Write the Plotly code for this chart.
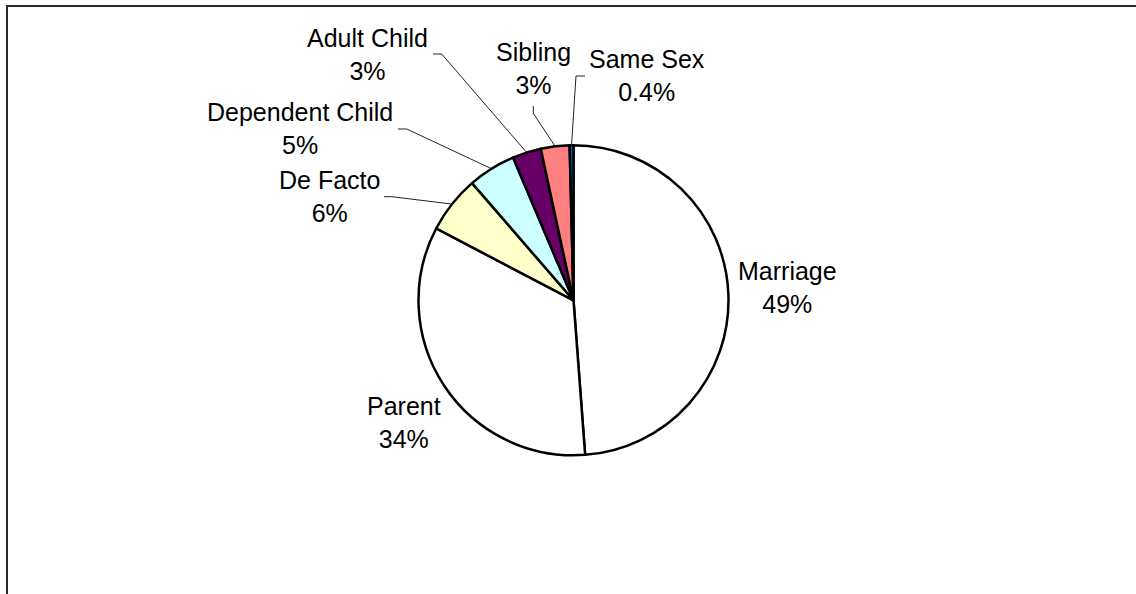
import math
import plotly.graph_objects as go

# Relationship categories and their shares (%)
categories = ["Marriage", "Parent", "De Facto", "Dependent Child",
              "Adult Child", "Sibling", "Same Sex"]
shares = [49, 34, 6, 5, 3, 3, 0.4]
slice_colors = ["#FFFFFF", "#FFFFFF", "#FFFFCC", "#CCFFFF",
                "#660066", "#FF8080", "#0066CC"]

W, H = 1136, 594
CX, CY, R = 573.5, 300.3, 155.0  # pie centre / radius in pixels

# Label block centres (px) and, for labels that need one, the elbow of the
# leader line: (start point next to the label, bend point)
label_pos = {
    "Marriage": (787, 287),
    "Parent": (404, 422),
    "De Facto": (329, 196),
    "Dependent Child": (300, 129),
    "Adult Child": (367.5, 55),
    "Sibling": (533, 68),
    "Same Sex": (646.5, 75),
}
leader_elbows = {
    "De Facto": [(384, 196.7), (391.7, 196.7)],
    "Dependent Child": [(398, 129), (406.7, 129)],
    "Adult Child": [(433, 54), (441.7, 54)],
    "Sibling": [(533.3, 106), (533.3, 113.3)],
    "Same Sex": [(585, 76), (576, 76)],
}


def px(x, y):
    return x / W, 1 - y / H


fig = go.Figure(
    go.Pie(
        labels=categories,
        values=shares,
        sort=False,
        direction="clockwise",
        rotation=0,
        marker=dict(colors=slice_colors, line=dict(color="black", width=2.5)),
        textinfo="none",
        hoverinfo="label+percent",
        domain=dict(x=[(CX - R) / W, (CX + R) / W],
                    y=[1 - (CY + R) / H, 1 - (CY - R) / H]),
    )
)

total = sum(shares)
annotations = []
shapes = []
cum = 0.0
for name, v in zip(categories, shares):
    mid = (cum + v / 2) / total * 2 * math.pi
    cum += v
    lx, ly = label_pos[name]
    ax, ay = px(lx, ly)
    annotations.append(dict(
        x=ax, y=ay, xref="paper", yref="paper",
        text=f"{name}<br>{v:g}%", showarrow=False,
        xanchor="center", yanchor="middle", align="center",
        font=dict(family="Liberation Sans, Arial, sans-serif", size=25, color="black"),
    ))
    if name in leader_elbows:
        ex = CX + R * math.sin(mid)
        ey = CY - R * math.cos(mid)
        pts = [px(*p) for p in leader_elbows[name]] + [px(ex, ey)]
        path = "M " + " L ".join(f"{x:.5f},{y:.5f}" for x, y in pts)
        shapes.append(dict(type="path", path=path, xref="paper", yref="paper",
                           line=dict(color="#222222", width=1), layer="above"))

# Chart-area frame (left and top edges visible)
fx0, fy0 = px(7, 6)
shapes.append(dict(type="path", xref="paper", yref="paper",
                   path=f"M {fx0:.5f},-0.1 L {fx0:.5f},{fy0:.5f} L 1.1,{fy0:.5f}",
                   line=dict(color="#2a2a2a", width=2)))

fig.update_layout(
    width=W, height=H,
    margin=dict(l=0, r=0, t=0, b=0),
    paper_bgcolor="white", plot_bgcolor="white",
    showlegend=False,
    annotations=annotations,
    shapes=shapes,
)

fig.write_html("out.html")
